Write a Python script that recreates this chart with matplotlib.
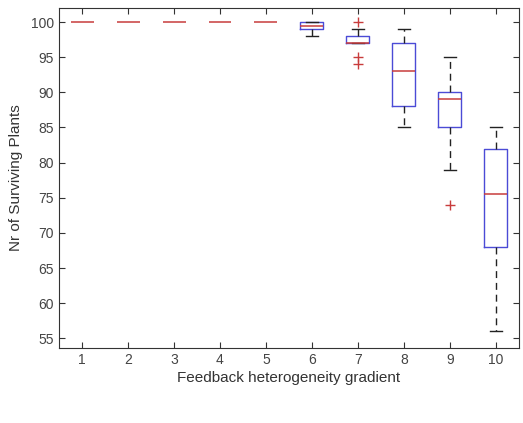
import matplotlib.pyplot as plt
import matplotlib as mpl

mpl.rcParams['font.family'] = ['Liberation Sans', 'DejaVu Sans']

# boxplot summary
groups = [1, 2, 3, 4, 5, 6, 7, 8, 9, 10]
medians = [100, 100, 100, 100, 100, 99.5, 97, 93, 89, 75.5]
q1 = [100, 100, 100, 100, 100, 99, 97, 88, 85, 68]
q3 = [100, 100, 100, 100, 100, 100, 98, 97, 90, 82]
whis_lo = [100, 100, 100, 100, 100, 98, 97, 85, 79, 56]
whis_hi = [100, 100, 100, 100, 100, 100, 99, 99, 95, 85]
outliers = [[], [], [], [], [], [], [100, 95, 94], [], [74], []]

stats = []
for i in range(len(groups)):
    stats.append({'med': medians[i], 'q1': q1[i], 'q3': q3[i],
                  'whislo': whis_lo[i], 'whishi': whis_hi[i],
                  'fliers': outliers[i]})

fig = plt.figure(figsize=(5.23, 4.23), dpi=100)
ax = fig.add_axes([0.113, 0.177, 0.879, 0.804])

blue = '#4b4bd6'
red = '#c83c3c'
bp = ax.bxp(stats, positions=groups, widths=0.5, capwidths=0.25,
            boxprops=dict(color=blue, linewidth=1.0),
            medianprops=dict(color=red, linewidth=1.1),
            whiskerprops=dict(color='#222222', linewidth=1.0, linestyle=(0, (5, 3.5))),
            capprops=dict(color='#222222', linewidth=1.0),
            flierprops=dict(marker='+', markeredgecolor=red, markersize=7,
                            markeredgewidth=1.0, linestyle='none'))

# collapsed boxes (all values equal) only show the red median line
for i in range(len(groups)):
    if q1[i] == q3[i] == whis_lo[i] == whis_hi[i]:
        bp['boxes'][i].set_visible(False)
        bp['caps'][2 * i].set_visible(False)
        bp['caps'][2 * i + 1].set_visible(False)

ax.set_xlim(0.5, 10.5)
ax.set_ylim(53.6, 102.0)
ax.set_yticks(range(55, 101, 5))
ax.set_xticks(groups)
ax.set_xticklabels([str(g) for g in groups])
ax.tick_params(direction='in', top=True, right=True, length=4,
               labelsize=10, colors='#333333', labelcolor='#444444')
for s in ax.spines.values():
    s.set_color('#333333')
    s.set_linewidth(0.8)

ax.set_xlabel('Feedback heterogeneity gradient', fontsize=11, color='#333333', labelpad=3)
ax.set_ylabel('Nr of Surviving Plants', fontsize=11, color='#333333', labelpad=6)

fig.savefig('out.png', dpi=100)
